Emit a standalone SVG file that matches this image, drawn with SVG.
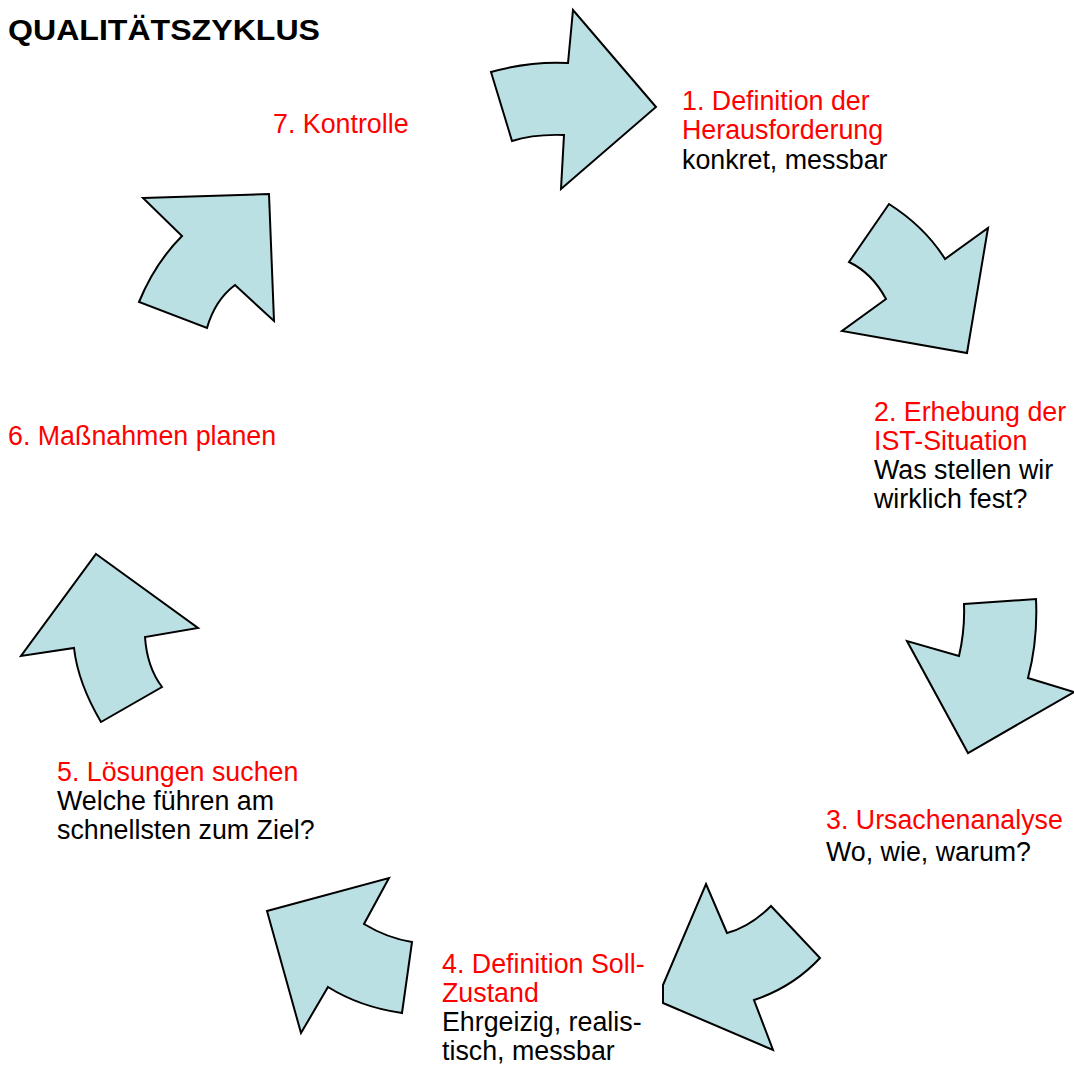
<svg xmlns="http://www.w3.org/2000/svg" width="1074" height="1068" viewBox="0 0 1074 1068">
<style>
.arrow{fill:#BBE0E3;stroke:#000;stroke-width:2;stroke-linejoin:miter}
text{font-family:"Liberation Sans",Arial,sans-serif;font-size:26.8px}
.r{fill:#FF0000}
.k{fill:#000}
.title{font-weight:bold;font-size:29px;fill:#000}
</style>
<rect width="1074" height="1068" fill="#fff"/>
<text class="title" x="8" y="40" textLength="312" lengthAdjust="spacingAndGlyphs">QUALITÄTSZYKLUS</text>
<g id="connectors">
<path id="arrow1" class="arrow" d="M491,72 Q530,61 568,63 L573,10 L656,107 L561,189 L564,135 Q533,134 512,141 Z"/>
<path id="arrow2" class="arrow" d="M889,204 Q925,227 945,259 L988,228 L967,353 L842,331 L886,299 Q872,273 849,262 Z"/>
<path id="arrow3" class="arrow" d="M964,604 L1036,599 Q1038,640 1028,678 L1074,692 L968,753 L907,641 L959,656 Q965,630 964,604 Z"/>
<path id="arrow4" class="arrow" d="M706,884 L727,933 Q750,927 771,906 L820,958 Q793,987 754,1000 L773,1050 L663,1003 L663,985 Z"/>
<path id="arrow5" class="arrow" d="M389,878 L364,924 Q387,938 412,942 L402,1013 Q360,1007 328,987 L301,1033 L267,911 Z"/>
<path id="arrow6" class="arrow" d="M96,554 L198,628 L145,637 Q147,667 162,687 L101,722 Q78,683 74,648 L21,656 Z"/>
<path id="arrow7" class="arrow" d="M143,198 L269,194 L274,321 L235,285 Q215,300 207,328 L139,302 Q155,263 182,236 Z"/>
</g>
<g id="node1">
<text class="r" x="682" y="110">1. Definition der</text>
<text class="r" x="682" y="139">Herausforderung</text>
<text class="k" x="682" y="169">konkret, messbar</text>
</g>
<g id="node2">
<text class="r" x="874" y="421">2. Erhebung der</text>
<text class="r" x="874" y="450">IST-Situation</text>
<text class="k" x="874" y="479">Was stellen wir</text>
<text class="k" x="874" y="508">wirklich fest?</text>
</g>
<g id="node3">
<text class="r" x="826" y="829">3. Ursachenanalyse</text>
<text class="k" x="826" y="861">Wo, wie, warum?</text>
</g>
<g id="node4">
<text class="r" x="442" y="973">4. Definition Soll-</text>
<text class="r" x="442" y="1002">Zustand</text>
<text class="k" x="442" y="1031">Ehrgeizig, realis-</text>
<text class="k" x="442" y="1060">tisch, messbar</text>
</g>
<g id="node5">
<text class="r" x="57" y="781">5. Lösungen suchen</text>
<text class="k" x="57" y="810">Welche führen am</text>
<text class="k" x="57" y="839">schnellsten zum Ziel?</text>
</g>
<g id="node6">
<text class="r" x="8" y="445">6. Maßnahmen planen</text>
</g>
<g id="node7">
<text class="r" x="273" y="133">7. Kontrolle</text>
</g>
</svg>
